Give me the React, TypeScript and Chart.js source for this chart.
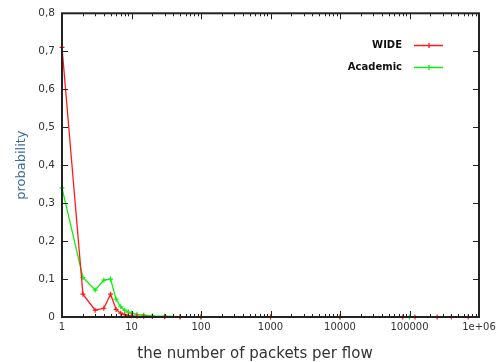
import React, { useEffect, useRef } from "react";
import { Chart, registerables } from "chart.js";

Chart.register(...registerables);

// ---- data ----
const wideX = [1, 2, 3, 4, 5, 6, 7, 8, 9, 10, 12, 15, 20, 30, 50, 100, 1000, 10000, 80000, 120000, 250000, 400000, 700000];
const wideY = [0.71, 0.06, 0.018, 0.023, 0.06, 0.02, 0.01, 0.006, 0.004, 0.003, 0.002, 0.0015, 0.001, 0.0005, 0.0003, 0.0002, 0, 0, 0, 0, 0, 0, 0];
const academicX = [1, 2, 3, 4, 5, 6, 7, 8, 9, 10, 12, 15, 20, 30, 50, 100, 1000, 10000, 100000];
const academicY = [0.34, 0.104, 0.071, 0.097, 0.1, 0.047, 0.027, 0.018, 0.013, 0.01, 0.007, 0.005, 0.003, 0.002, 0.001, 0.0005, 0, 0, 0];
const xTickValues = [1, 10, 100, 1000, 10000, 100000, 1000000];
const xTickLabels = ["1", "10", "100", "1000", "10000", "100000", "1e+06"];
const yTickValues = [0, 0.1, 0.2, 0.3, 0.4, 0.5, 0.6, 0.7, 0.8];
const seriesNames = ["WIDE", "Academic"];
const seriesColors = ["#ff1a1a", "#11ee11"];
const xTitle = "the number of packets per flow";
const yTitle = "probability";

const FONT = '"DejaVu Sans", Verdana, sans-serif';

const framePlugin = {
  id: "frame",
  afterDatasetsDraw(chart: any) {
    const { ctx, chartArea } = chart;
    const { left, right, top, bottom } = chartArea;
    const xs = chart.scales.x;
    const ys = chart.scales.y;
    ctx.save();
    ctx.strokeStyle = "#222";
    ctx.lineWidth = 1;
    ctx.beginPath();
    for (let d = 1; d <= 1000000; d *= 10) {
      for (let m = 1; m <= 9; m++) {
        const v = m * d;
        if (v > 1000000) break;
        const px = Math.round(xs.getPixelForValue(v)) + 0.5;
        const len = m === 1 ? 6 : 3;
        ctx.moveTo(px, bottom);
        ctx.lineTo(px, bottom - len);
        ctx.moveTo(px, top);
        ctx.lineTo(px, top + len);
      }
    }
    for (const v of yTickValues) {
      const py = Math.round(ys.getPixelForValue(v)) + 0.5;
      ctx.moveTo(left, py);
      ctx.lineTo(left + 6, py);
      ctx.moveTo(right, py);
      ctx.lineTo(right - 6, py);
    }
    ctx.stroke();
    ctx.lineWidth = 2;
    ctx.strokeRect(left, top, right - left, bottom - top);
    ctx.restore();
  },
  afterDraw(chart: any) {
    const { ctx } = chart;
    ctx.save();
    // legend
    ctx.font = `bold 10px ${FONT}`;
    ctx.textAlign = "right";
    ctx.textBaseline = "middle";
    const rows = [45.5, 67.5];
    seriesNames.forEach((name, i) => {
      const y = rows[i];
      ctx.fillStyle = "#111";
      ctx.fillText(name, 402, y);
      ctx.strokeStyle = seriesColors[i];
      ctx.lineWidth = 1.3;
      ctx.beginPath();
      ctx.moveTo(414, y);
      ctx.lineTo(443, y);
      ctx.moveTo(429, y - 2.5);
      ctx.lineTo(429, y + 2.5);
      ctx.stroke();
    });
    // x title
    ctx.font = `15px ${FONT}`;
    ctx.fillStyle = "#333";
    ctx.textAlign = "center";
    ctx.textBaseline = "alphabetic";
    ctx.fillText(xTitle, 255, 358);
    ctx.restore();
  },
};

export default function App() {
  const ref = useRef<HTMLCanvasElement>(null);
  useEffect(() => {
    const canvas = ref.current;
    if (!canvas) return;
    const chart = new Chart(canvas, {
      type: "line",
      data: {
        datasets: [
          {
            label: seriesNames[0],
            data: wideX.map((x, i) => ({ x, y: wideY[i] })),
            borderColor: seriesColors[0],
            backgroundColor: seriesColors[0],
            borderWidth: 1.3,
            pointStyle: "cross",
            pointRadius: 2.5,
            pointBorderWidth: 1.2,
            tension: 0,
            clip: 4,
          },
          {
            label: seriesNames[1],
            data: academicX.map((x, i) => ({ x, y: academicY[i] })),
            borderColor: seriesColors[1],
            backgroundColor: seriesColors[1],
            borderWidth: 1.3,
            pointStyle: "cross",
            pointRadius: 2.5,
            pointBorderWidth: 1.2,
            tension: 0,
            clip: 4,
          },
        ],
      },
      options: {
        responsive: false,
        animation: false,
        layout: { padding: { top: 13, right: 23, left: 0, bottom: 0 } },
        plugins: { legend: { display: false }, tooltip: { enabled: false } },
        scales: {
          x: {
            type: "logarithmic",
            min: 1,
            max: 1000000,
            grid: { display: false, drawTicks: false },
            border: { display: false },
            afterBuildTicks: (scale: any) => {
              scale.ticks = xTickValues.map((v) => ({ value: v }));
            },
            afterFit: (scale: any) => {
              scale.height = 45;
            },
            ticks: {
              autoSkip: false,
              maxRotation: 0,
              padding: 4,
              color: "#333",
              font: { family: FONT, size: 10 },
              callback: (v: any) => {
                const i = xTickValues.indexOf(Number(v));
                return i >= 0 ? xTickLabels[i] : "";
              },
            },
          },
          y: {
            min: 0,
            max: 0.8,
            grid: { display: false, drawTicks: false },
            border: { display: false },
            afterBuildTicks: (scale: any) => {
              scale.ticks = yTickValues.map((v) => ({ value: v }));
            },
            afterFit: (scale: any) => {
              scale.width = 62;
            },
            ticks: {
              padding: 7,
              color: "#333",
              font: { family: FONT, size: 10.5 },
              callback: (v: any) => (Number(v) === 0 ? "0" : Number(v).toFixed(1).replace(".", ",")),
            },
            title: {
              display: true,
              text: yTitle,
              color: "#3d6a9e",
              font: { family: FONT, size: 13 },
              padding: { top: 14, bottom: 0 },
            },
          },
        },
      },
      plugins: [framePlugin],
    });
    return () => chart.destroy();
  }, []);
  return (
    <div style={{ position: "fixed", left: 0, top: 0, width: 502, height: 362, background: "#fff" }}>
      <canvas ref={ref} width={502} height={362} />
    </div>
  );
}
